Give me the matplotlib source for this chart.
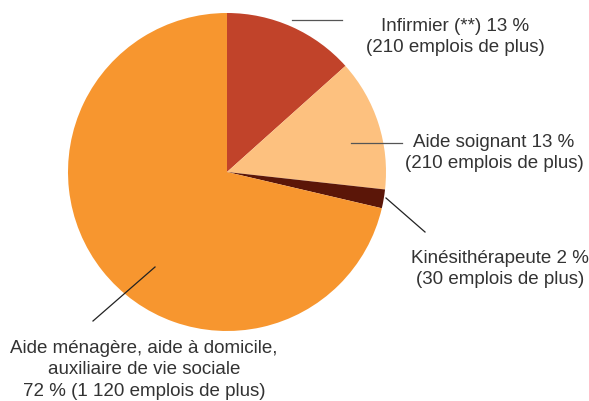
import matplotlib.pyplot as plt

# emplois supplémentaires par métier
labels = ["Infirmier (**) 13 %\n(210 emplois de plus)",
          "Aide soignant 13 %\n(210 emplois de plus)",
          "Kinésithérapeute 2 %\n(30 emplois de plus)",
          "Aide ménagère, aide à domicile,\nauxiliaire de vie sociale\n72 % (1 120 emplois de plus)"]
emplois = [210, 210, 30, 1120]
colors = ["#C1432A", "#FDC17F", "#5B1608", "#F7962F"]

W, H = 589, 401
cx, cy, R = 227, 172, 159

def px(x, y):
    # pixel position -> data coordinates (pie radius = 1)
    return (x - cx) / R, (cy - y) / R

fig = plt.figure(figsize=(W / 100, H / 100), dpi=100)
ax = fig.add_axes([0, 0, 1, 1])
ax.pie(emplois, colors=colors, startangle=90, counterclock=False, radius=1,
       wedgeprops=dict(linewidth=0))
ax.set_xlim(-cx / R, (W - cx) / R)
ax.set_ylim(-(H - cy) / R, cy / R)
ax.axis("off")

plt.rcParams['font.family'] = ['Liberation Sans', 'DejaVu Sans']

# leader lines
lines = [((292, 20), (342, 20), "#555555"),
         ((351, 143), (402, 143), "#555555"),
         ((386, 198), (425, 232), "#222222"),
         ((155, 267), (93, 321), "#222222")]
for p0, p1, c in lines:
    a, b = px(*p0), px(*p1)
    ax.plot([a[0], b[0]], [a[1], b[1]], color=c, lw=0.9)

text_pos = [(455, 37), (494, 153), (500, 269), (144, 370)]
for lab, (x, y) in zip(labels, text_pos):
    tx, ty = px(x, y)
    ax.text(tx, ty, lab, ha="center", va="center", fontsize=13.5,
            color="#333333", linespacing=1.38, family=['Liberation Sans', 'DejaVu Sans'])

plt.savefig("out.png", dpi=100)
